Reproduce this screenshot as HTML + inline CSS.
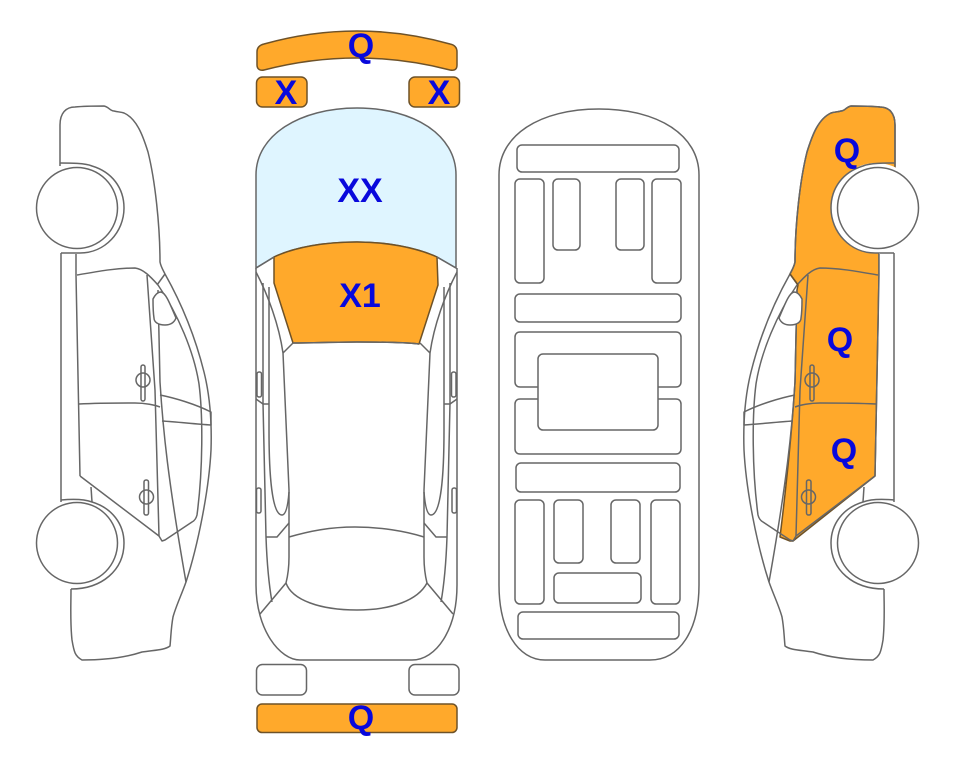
<!DOCTYPE html>
<html><head><meta charset="utf-8"><style>
html,body{margin:0;padding:0;background:#fff}
svg{display:block}
text{font-family:"Liberation Sans",sans-serif;font-weight:bold;font-size:34px;fill:#0808dc;text-anchor:middle}
.o{fill:#ffa92b;stroke:#6e5228;stroke-width:1.5;stroke-linejoin:round}
.l{fill:none;stroke:#666;stroke-width:1.5;stroke-linejoin:round}
.r{fill:#fff;stroke:#666;stroke-width:1.5}
</style></head><body>
<svg width="963" height="768" viewBox="0 0 963 768" xmlns="http://www.w3.org/2000/svg">
<rect width="963" height="768" fill="#fff"/>
<defs>
<g id="side">
<g class="l">
<path d="M60 166V125C60 113 66 107 75 107C85 106 96 106 104 106C109 107 110 111 114 111C118 112 121 112 124 113C137 119 143 136 148 152C155 180 160 225 160 262C161 267 163 270 165 274C183 306 196 340 204 372C210 396 212 420 211 450C209 490 198 545 186 582C181 596 176 606 173 617C171 628 171 636 170 646C165 650 155 650 142 652C130 656 112 660 82 660C75 656 74 652 72 640C70 622 71 605 71 589"/>
<path d="M60 163C70 163 85 163 92 166C112 172 124 188 124 208C124 232 105 253 80 253H61"/>
<path d="M61 253V502"/>
<path d="M76 254V275L80 476"/>
<path d="M77 275C95 272 115 268 135 268C143 269 150 276 158 285C178 314 194 352 199 384C203 415 203 470 197 515C196 519 194 521 192 522L165 540L162 541L159 536L80 476"/>
<path d="M165 274L157 285"/>
<path d="M147 275L155 390L159 536"/>
<path d="M158 290L160 382C163 430 168 480 186 582"/>
<path d="M79 404C100 403 120 403 135 403C145 403 155 405 160 407"/>
<path d="M160 395C175 398 195 404 211 412L211 425C195 424 178 422 162 421"/>
<path d="M91 487L92 502"/>
<path d="M61 500C72 499 84 499 92 502C112 508 124 524 124 543C124 570 102 589 71 589"/>
<path d="M153 299C155 295 158 292 161 292C166 293 170 304 176 318C174 323 170 325 165 325C158 325 154 322 154 318C153 312 153 305 153 299Z" fill="#fff"/>
<rect x="141" y="365" width="4" height="36" rx="2"/>
<circle cx="143" cy="380" r="7"/>
<rect x="144" y="480" width="4.500" height="35" rx="2"/>
<circle cx="146.500" cy="497" r="7"/>
</g>
<circle cx="77" cy="208" r="40.500" class="r"/>
<circle cx="77" cy="543" r="40.500" class="r"/>
</g>
<g id="front" class="l">
<path d="M256 272C268 295 279 325 283 353L289 490L289 557C289 565 288 575 286 583"/>
<path d="M263 283V403L266 537C267 565 269 585 272 602"/>
<path d="M269 287V430C269 475 272 515 282 515C286 515 288 505 289 492"/>
<path d="M283 353L293 343"/>
<path d="M286 583L260 614"/>
<path d="M256 399L263 404H269"/>
<path d="M266 537H277L289 523"/>
<rect x="257" y="372" width="4.500" height="25" rx="2"/>
<rect x="256.500" y="488" width="4.500" height="25" rx="2"/>
</g>
</defs>

<path class="o" d="M257 52C257 47 260 45 264 44Q357 18 450 44C455 45 457 48 457 52V65C457 69 455 71 450 70Q357 46 264 70C260 71 257 69 257 65Z"/>
<rect class="o" x="256.500" y="77" width="50.500" height="30" rx="6"/>
<rect class="o" x="409" y="77" width="50.500" height="30" rx="6"/>

<path d="M256 268V175C256 135 300 108 357 108C414 108 456 135 456 175V268L437 257C415 247 385 242 357 242C325 242 295 247 274 257Z" fill="#dff5ff" stroke="#666" stroke-width="1.5"/>
<path class="o" d="M274 257C295 247 325 242 357 242C385 242 415 247 437 257L438 285L419 344C400 342 375 342 357 342C335 342 313 343 293 343L274 283Z" stroke="#666"/>
<path class="l" d="M256 268L274 257M456 268L437 257"/>

<use href="#front"/>
<use href="#front" transform="translate(713,0) scale(-1,1)"/>
<path class="l" d="M256 268V585C256 630 280 660 300 660H412C436 660 457 630 457 585V268"/>
<path class="l" d="M286 583C292 600 320 610 357 610C392 610 418 600 427 583"/>
<path class="l" d="M289 537C310 531 330 527 355 527C380 527 405 531 424 537"/>
<path class="l" d="M293 343C313 343 335 342 357 342C375 342 400 342 419 344"/>
<rect class="r" x="256.500" y="664.500" width="50" height="30.500" rx="6"/>
<rect class="r" x="409" y="664.500" width="50" height="30.500" rx="6"/>
<rect class="o" x="257" y="704" width="200" height="28.500" rx="5"/>

<g class="l">
<path d="M499 175C499 135 540 109 599 109C658 109 699 135 699 175V585C699 630 680 660 650 660H545C518 660 499 630 499 585Z"/>
<rect x="517" y="145" width="162" height="27" rx="5"/>
<rect x="515" y="179" width="29" height="104" rx="5"/>
<rect x="553" y="179" width="27" height="71" rx="5"/>
<rect x="616" y="179" width="28" height="71" rx="5"/>
<rect x="652" y="179" width="29" height="104" rx="5"/>
<rect x="515" y="294" width="166" height="28" rx="5"/>
<path d="M538 387H520C517 387 515 385 515 382V337C515 334 517 332 520 332H676C679 332 681 334 681 337V382C681 385 679 387 676 387H658"/>
<path d="M538 399H520C517 399 515 401 515 404V449C515 452 517 454 520 454H676C679 454 681 452 681 449V404C681 401 679 399 676 399H658"/>
<rect x="538" y="354" width="120" height="76" rx="5"/>
<rect x="516" y="463" width="164" height="29" rx="5"/>
<rect x="515" y="500" width="29" height="104" rx="5"/>
<rect x="554" y="500" width="29" height="63" rx="5"/>
<rect x="611" y="500" width="29" height="63" rx="5"/>
<rect x="651" y="500" width="29" height="104" rx="5"/>
<rect x="554" y="573" width="87" height="30" rx="5"/>
<rect x="518" y="612" width="161" height="27" rx="5"/>
</g>

<use href="#side"/>

<path class="o" d="M895 166V125C895 113 889 107 880 107C870 106 859 106 851 106C846 107 845 111 841 111C837 112 834 112 831 113C818 119 812 136 807 152C800 180 795 225 795 262C794 267 792 270 790 274L798 285L797 290L795 382C792 430 787 480 780 537L790 541L793 541L875 476L879 275V208H895Z"/>
<g transform="translate(955,0) scale(-1,1)">
<circle cx="79" cy="208" r="45" fill="#fff"/>
<path d="M61 253H76V502H61Z" fill="#fff"/>
</g>
<use href="#side" transform="translate(955,0) scale(-1,1)"/>
<path d="M790 274L798 285" stroke="#6e5228" stroke-width="1.3" fill="none"/>

<text x="361" y="57">Q</text>
<text x="286" y="104">X</text>
<text x="439" y="104">X</text>
<text x="360" y="202">XX</text>
<text x="360" y="307">X1</text>
<text x="361" y="729">Q</text>
<text x="847" y="162">Q</text>
<text x="840" y="351">Q</text>
<text x="844" y="462">Q</text>
</svg>
</body></html>
